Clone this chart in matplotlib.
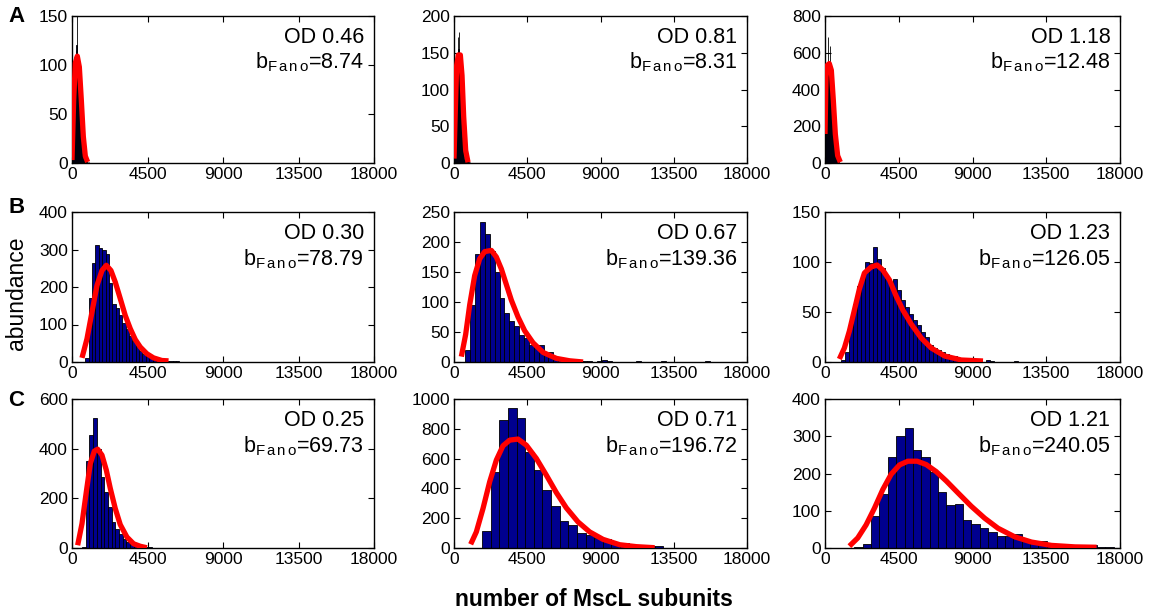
import numpy as np
import matplotlib
matplotlib.use('Agg')
import matplotlib.pyplot as plt

plt.rcParams['font.family'] = ['Liberation Sans', 'DejaVu Sans']
plt.rcParams['mathtext.fontset'] = 'custom'
plt.rcParams['mathtext.rm'] = 'Liberation Sans'
plt.rcParams['mathtext.it'] = 'Liberation Sans'
plt.rcParams['mathtext.default'] = 'regular'

x_ticks = [0, 4500, 9000, 13500, 18000]

od_labels = [['OD 0.46', 'OD 0.81', 'OD 1.18'],
             ['OD 0.30', 'OD 0.67', 'OD 1.23'],
             ['OD 0.25', 'OD 0.71', 'OD 1.21']]
b_fano = [['8.74', '8.31', '12.48'],
          ['78.79', '139.36', '126.05'],
          ['69.73', '196.72', '240.05']]
y_max = [[150, 200, 800], [400, 250, 150], [600, 1000, 400]]
y_step = [[50, 50, 200], [100, 50, 50], [200, 200, 100]]

# histogram bins: centre of first bin and bin width (number of subunits)
bin_start = [[15, 15, 15], [900, 850, 1100], [710, 1990, 2050]]
bin_width = [[30, 30, 30], [200, 300, 245], [220, 530, 510]]

counts_A1 = [3, 10, 25, 50, 75, 95, 108, 115, 120, 155, 110, 100, 85, 70, 50, 40,
             30, 22, 15, 10, 7, 5, 4, 3, 2, 2, 1, 1, 1, 1, 0, 1, 0, 1]
counts_A2 = [3, 15, 40, 70, 100, 125, 140, 150, 172, 155, 178, 140, 120, 95, 70, 50,
             35, 22, 15, 10, 6, 4, 3, 2, 2, 1, 1, 1, 0, 1, 0, 0, 1]
counts_A3 = [150, 350, 450, 500, 520, 530, 687, 540, 535, 530, 636, 500, 450, 400, 340,
             280, 220, 160, 120, 80, 55, 35, 25, 15, 10, 7, 5, 3, 2, 2, 1, 1, 1, 0, 1]
counts_B1 = [10, 170, 265, 312, 305, 300, 288, 212, 155, 145, 125, 105, 88, 70, 55, 42,
             30, 22, 16, 14, 10, 8, 7, 6, 4, 3, 2, 2, 1, 1, 1, 0, 1, 0, 1]
counts_B2 = [20, 95, 180, 233, 213, 185, 150, 106, 82, 69, 60, 45, 40, 29, 29, 29, 17,
             16, 9, 6, 4, 3, 2, 1, 1, 1, 0, 2, 3, 1, 0, 0, 0, 0, 0, 1, 0, 0, 0, 0, 1,
             0, 0, 0, 0, 0, 0, 0, 0, 1]
counts_B3 = [2, 10, 38, 58, 76, 87, 100, 99, 115, 103, 94, 83, 76, 83, 72, 62, 55, 48,
             42, 37, 30, 25, 17, 14, 12, 10, 8, 6, 6, 4, 3, 2, 2, 1, 1, 0, 2, 1, 0, 0,
             0, 0, 0, 1]
counts_C1 = [5, 350, 455, 522, 400, 287, 226, 165, 105, 78, 58, 38, 24, 17, 13, 8, 6,
             4, 3, 2, 2, 1, 1, 1, 0, 1, 0, 0, 1]
counts_C2 = [112, 511, 856, 937, 874, 646, 522, 388, 280, 179, 157, 103, 90, 67, 60, 36,
             36, 20, 20, 11, 13, 3, 2, 1, 3, 1, 1, 1, 2]
counts_C3 = [4, 12, 86, 144, 244, 301, 323, 262, 245, 203, 151, 115, 119, 75, 65, 55,
             44, 31, 33, 38, 20, 16, 19, 10, 7, 7, 9, 4, 8, 2, 2]

# fitted distributions (red)
fit_x_A1 = [0, 99, 198, 317, 437, 556, 675, 794, 933]
fit_y_A1 = [3, 64, 102, 109, 98, 64, 27, 7, 1]
fit_x_A2 = [0, 82, 164, 267, 390, 493, 595, 718, 862]
fit_y_A2 = [6, 73, 133, 147, 147, 119, 63, 17, 1]
fit_x_A3 = [0, 61, 142, 264, 386, 508, 630, 772, 935]
fit_y_A3 = [158, 468, 532, 541, 505, 341, 158, 40, 5]
fit_x_B1 = [595, 893, 1190, 1488, 1786, 2044, 2321, 2580, 2877, 3175, 3472, 3770,
            4067, 4464, 4861, 5357, 5754]
fit_y_B1 = [11, 62, 133, 204, 244, 258, 244, 213, 169, 124, 89, 60, 40, 22, 11, 4, 3]
fit_x_B2 = [451, 717, 963, 1270, 1578, 1885, 2295, 2602, 2910, 3217, 3525, 3934, 4344,
            4857, 5471, 6291, 7111, 7930]
fit_y_B2 = [9, 46, 95, 144, 172, 184, 186, 175, 155, 129, 103, 75, 52, 32, 16, 6, 2, 0]
fit_x_B3 = [876, 1182, 1488, 1794, 2099, 2405, 2813, 3180, 3526, 3934, 4342, 4749, 5259,
            5870, 6482, 7297, 8316, 9641]
fit_y_B3 = [3, 14, 31, 52, 73, 89, 95, 97, 92, 82, 66, 52, 38, 24, 14, 6, 2, 1]
fit_x_C1 = [337, 595, 853, 1091, 1329, 1528, 1786, 2044, 2282, 2579, 2877, 3274, 3671,
            4067, 4464]
fit_y_C1 = [11, 98, 226, 340, 390, 398, 374, 314, 240, 159, 94, 44, 17, 7, 1]
fit_x_C2 = [1024, 1372, 1782, 2191, 2601, 3010, 3420, 3932, 4444, 5058, 5673, 6287, 6902,
            7618, 8335, 9154, 10178, 11202, 12328]
fit_y_C2 = [25, 108, 265, 444, 590, 686, 724, 731, 690, 601, 489, 372, 269, 175, 108, 58,
            22, 9, 2]
fit_x_C3 = [1488, 1998, 2507, 3017, 3526, 4036, 4545, 5055, 5626, 6176, 6788, 7399, 8113,
            8928, 9743, 10558, 11577, 12597, 13820, 15247, 16572]
fit_y_C3 = [5, 27, 62, 107, 157, 198, 223, 233, 233, 224, 205, 180, 148, 112, 80, 53, 30,
            16, 7, 3, 2]

counts = [[counts_A1, counts_A2, counts_A3],
          [counts_B1, counts_B2, counts_B3],
          [counts_C1, counts_C2, counts_C3]]
fit_x = [[fit_x_A1, fit_x_A2, fit_x_A3],
         [fit_x_B1, fit_x_B2, fit_x_B3],
         [fit_x_C1, fit_x_C2, fit_x_C3]]
fit_y = [[fit_y_A1, fit_y_A2, fit_y_A3],
         [fit_y_B1, fit_y_B2, fit_y_B3],
         [fit_y_C1, fit_y_C2, fit_y_C3]]

W, H = 1161, 615
fig = plt.figure(figsize=(W / 100, H / 100), dpi=100)

# axes boxes in pixels (left, right) and (top, bottom)
cols = [(72, 374), (454, 747), (825, 1120)]
rows = [(16, 163), (212, 362), (399, 548)]

for r in range(3):
    for c in range(3):
        x0, x1 = cols[c]
        y0, y1 = rows[r]
        ax = fig.add_axes([x0 / W, 1 - y1 / H, (x1 - x0) / W, (y1 - y0) / H])
        n = counts[r][c]
        centres = bin_start[r][c] + bin_width[r][c] * np.arange(len(n))
        ax.bar(centres, n, width=bin_width[r][c], color='#00008F', edgecolor='black',
               linewidth=0.6, zorder=2)
        ax.plot(fit_x[r][c], fit_y[r][c], color='red', lw=3.8, solid_capstyle='butt',
                solid_joinstyle='round', zorder=3)
        ax.set_xlim(0, 18000)
        ax.set_ylim(0, y_max[r][c])
        ax.set_xticks(x_ticks)
        ax.set_yticks(np.arange(0, y_max[r][c] + 1, y_step[r][c]))
        ax.tick_params(direction='in', length=4, width=0.8, labelsize=12.5,
                       top=True, right=True, pad=3)
        for s in ax.spines.values():
            s.set_linewidth(1.0)
        ax.text(0.967, 0.818, od_labels[r][c], transform=ax.transAxes, ha='right',
                va='baseline', fontsize=15.5)
        ax.text(0.967, 0.642, r'b$_{\mathrm{F\,a\,n\,o}}$=' + b_fano[r][c],
                transform=ax.transAxes, ha='right', va='baseline', fontsize=15.5)

for letter, (px, py) in zip('ABC', [(8, 22), (9, 213), (8, 406)]):
    fig.text(px / W, 1 - py / H, letter, fontsize=16, fontweight='bold', va='baseline')

fig.text(17 / W, 1 - 293 / H, 'abundance', rotation=90, ha='center', va='center',
         fontsize=16.5)
fig.text(594 / W, 1 - 606 / H, 'number of MscL subunits', ha='center', va='baseline',
         fontsize=16.5, fontweight='bold')

fig.savefig('out.png', dpi=100)
